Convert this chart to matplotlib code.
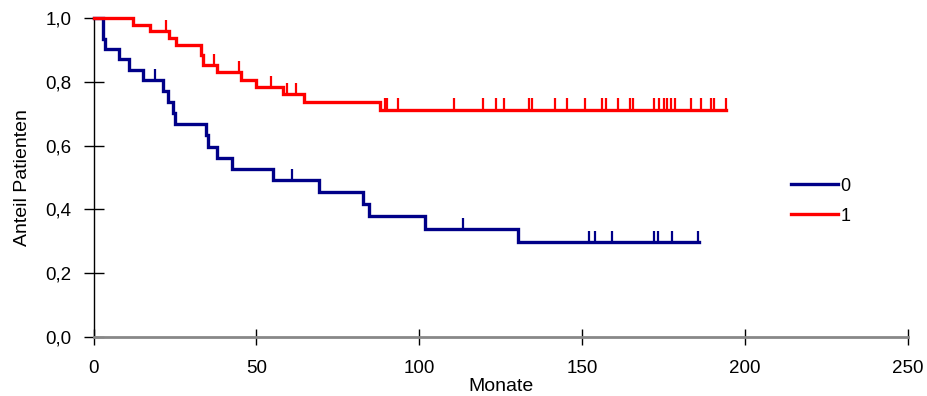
import matplotlib
matplotlib.use("Agg")
import matplotlib.pyplot as plt
import numpy as np

plt.rcParams['font.family'] = ['Liberation Sans', 'DejaVu Sans']

# Group 0 (blue) Kaplan-Meier steps
blue_times = [0, 2.8, 3.5, 7.9, 11.0, 15.1, 21.4, 23.0, 24.3, 25.0, 34.5, 35.0,
              37.8, 42.4, 55.2, 69.2, 82.8, 84.6, 101.7, 130.3]
blue_surv = [1.0, 0.935, 0.903, 0.871, 0.838, 0.806, 0.772, 0.737, 0.702, 0.667,
             0.632, 0.597, 0.561, 0.526, 0.491, 0.454, 0.416, 0.378, 0.338, 0.297]
blue_end = 186.0
blue_censor = [18.9, 61.0, 113.4, 152.0, 153.9, 159.0, 172.0, 173.2, 177.5, 185.5]

# Group 1 (red)
red_times = [0, 12.0, 17.3, 23.3, 25.3, 32.9, 33.5, 38.0, 45.3, 49.9, 58.1, 64.6, 87.9]
red_surv = [1.0, 0.979, 0.958, 0.937, 0.916, 0.884, 0.852, 0.830, 0.807, 0.784,
            0.761, 0.737, 0.713]
red_end = 194.2
red_censor = [22.2, 37.0, 44.8, 54.4, 59.5, 62.0, 89.4, 90.1, 93.5, 110.6, 119.4,
              123.5, 125.9, 133.8, 134.6, 141.6, 145.2, 151.0, 156.2, 157.2, 161.0,
              164.6, 165.5, 172.0, 173.6, 175.0, 175.9, 177.4, 178.4, 183.5, 186.6,
              189.6, 190.6, 194.2]

x_ticks = [0, 50, 100, 150, 200, 250]
y_ticks = [0.0, 0.2, 0.4, 0.6, 0.8, 1.0]
y_ticklabels = ['0,0', '0,2', '0,4', '0,6', '0,8', '1,0']

BLUE = '#000088'
RED = '#ff0000'

fig = plt.figure(figsize=(9.27, 3.96), dpi=100)
ax = fig.add_axes([0.1009, 0.149, 0.8786, 0.8055])


def draw(times, surv, end, censor, color, label):
    t = np.array(list(times) + [end])
    s = np.array(list(surv) + [surv[-1]])
    ax.step(t, s, where='post', color=color, lw=2.4, label=label,
            clip_on=False, solid_joinstyle='miter', zorder=3)
    idx = np.searchsorted(np.array(times), np.array(censor), side='right') - 1
    lev = np.array(surv)[idx]
    ax.vlines(censor, lev, lev + 0.035, color=color, lw=1.6, clip_on=False, zorder=3)


draw(blue_times, blue_surv, blue_end, blue_censor, BLUE, '0')
draw(red_times, red_surv, red_end, red_censor, RED, '1')

ax.set_xlim(0, 250)
ax.set_ylim(0, 1.0)
ax.set_xticks(x_ticks)
ax.set_xticklabels([str(v) for v in x_ticks])
ax.set_yticks(y_ticks)
ax.set_yticklabels(y_ticklabels)

for s in ['top', 'right']:
    ax.spines[s].set_visible(False)
ax.spines['left'].set_color('black')
ax.spines['left'].set_linewidth(1.0)
ax.spines['bottom'].set_color('#888888')
ax.spines['bottom'].set_linewidth(2.0)

ax.tick_params(axis='y', direction='inout', length=14, width=1.0, color='black',
               labelsize=13.5, pad=9)
ax.tick_params(axis='x', direction='inout', length=11, width=1.0, color='black',
               labelsize=13.5, pad=11)

ax.set_xlabel('Monate', fontsize=14, labelpad=0.5)
ax.set_ylabel('Anteil Patienten', fontsize=14, labelpad=10)

leg = ax.legend(loc='upper left', bbox_to_anchor=(0.836, 0.55), frameon=False,
                fontsize=13, handlelength=2.6, handletextpad=0.15, labelspacing=0.72)

fig.savefig('out.png', dpi=100)
